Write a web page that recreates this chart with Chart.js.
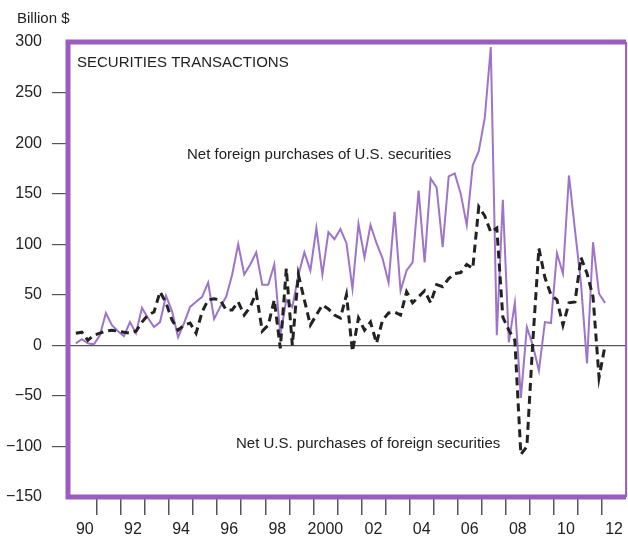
<!DOCTYPE html>
<html>
<head>
<meta charset="utf-8">
<script src="https://cdn.jsdelivr.net/npm/chart.js@4.4.0/dist/chart.umd.min.js"></script>
<style>
  html, body { margin: 0; padding: 0; background: #fff; }
  #wrap { width: 628px; height: 536px; }
</style>
</head>
<body>
<div id="wrap"><canvas id="chart" width="628" height="536"></canvas></div>
<script>
// --- data (quarterly, 1990Q1 .. 2012Q1, billion $) ---
const START_YEAR = 1990;
const QUARTER_COUNT = 89;

// net foreign purchases of U.S. securities
const foreignPurchases = [
  2, 6, 2, 1, 10, 32, 20, 14, 9, 23, 12, 37, 27, 18, 23, 49,
  34, 8, 22, 38, 43, 48, 62, 26, 38, 48, 70, 100, 70, 80, 92, 60,
  60, 80, 10, 45, 38, 69, 92, 74, 116, 70, 112, 105, 115, 101, 56, 120,
  87, 119, 101, 86, 62, 132, 54, 74, 82, 153, 82, 165, 156, 97, 167, 170,
  150, 119, 178, 192, 225, 295, 10, 144, 3, 42, -52, 18, 0, -25, 23, 22,
  91, 71, 168, 114, 61, -18, 102, 51, 42
];

// net U.S. purchases of foreign securities
const usPurchases = [
  12, 13, 5, 10, 12, 14, 15, 14, 13, 12, 14, 23, 30, 33, 53, 42,
  25, 15, 20, 22, 12, 33, 45, 46, 45, 35, 35, 43, 30, 38, 52, 14,
  20, 45, -3, 76, 0, 70, 45, 20, 30, 40, 36, 30, 27, 50, -6, 27,
  15, 23, 2, 25, 32, 33, 30, 53, 42, 48, 54, 42, 60, 58, 66, 71,
  72, 80, 76, 137, 128, 112, 116, 28, 15, 5, -108, -100, 5, 96, 67, 50,
  45, 20, 42, 43, 87, 71, 48, -32, 0
];

// axis ticks
const yTicks = [-150, -100, -50, 0, 50, 100, 150, 200, 250, 300];
const xTickYears = [1991, 1992, 1993, 1994, 1995, 1996, 1997, 1998, 1999, 2000, 2001,
  2002, 2003, 2004, 2005, 2006, 2007, 2008, 2009, 2010, 2011, 2012];
const xLabelYears = [1990, 1992, 1994, 1996, 1998, 2000, 2002, 2004, 2006, 2008, 2010, 2012];
const xLabels = ['90', '92', '94', '96', '98', '2000', '02', '04', '06', '08', '10', '12'];

const FRAME = '#9b5cc2';
const PURPLE = '#9e74cb';
const INK = '#222';
const NONE = 'rgba(0,0,0,0)';
const FONT = 'Liberation Sans, Arial, Helvetica, sans-serif';

// quarter midpoints in decimal years
const quarterX = [];
for (let i = 0; i < QUARTER_COUNT; i++) quarterX.push(START_YEAR + i * 0.25 + 0.125);

const toPoints = arr => arr.map((v, i) => ({ x: quarterX[i], y: v }));

// frame + free text
const framePlugin = {
  id: 'frame',
  afterDraw(chart) {
    const { ctx, chartArea: a } = chart;
    ctx.save();
    ctx.strokeStyle = FRAME;
    ctx.lineWidth = 5;
    ctx.beginPath();
    ctx.moveTo(a.right, a.top);
    ctx.lineTo(a.left, a.top);
    ctx.lineTo(a.left, a.bottom);
    ctx.lineTo(a.right, a.bottom);
    ctx.stroke();
    ctx.lineWidth = 2;
    ctx.beginPath();
    ctx.moveTo(a.right, a.top);
    ctx.lineTo(a.right, a.bottom);
    ctx.stroke();

    ctx.fillStyle = INK;
    ctx.textBaseline = 'middle';
    ctx.textAlign = 'left';
    ctx.font = '15px ' + FONT;
    ctx.fillText('Billion $', 17, 19, 54);
    ctx.fillText('SECURITIES TRANSACTIONS', 77, 63, 214);
    ctx.fillText('Net foreign purchases of U.S. securities', 187, 155, 266);
    ctx.fillText('Net U.S. purchases of foreign securities', 236, 444, 266);
    ctx.restore();
  }
};

new Chart(document.getElementById('chart'), {
  type: 'line',
  data: {
    datasets: [
      {
        label: 'Net foreign purchases of U.S. securities',
        data: toPoints(foreignPurchases),
        borderColor: PURPLE,
        borderWidth: 2,
        pointRadius: 0,
        tension: 0,
        order: 1
      },
      {
        label: 'Net U.S. purchases of foreign securities',
        data: toPoints(usPurchases),
        borderColor: '#222',
        borderWidth: 3,
        borderDash: [8, 5],
        pointRadius: 0,
        tension: 0,
        order: 0
      }
    ]
  },
  options: {
    responsive: false,
    devicePixelRatio: 1,
    animation: false,
    layout: { padding: { top: 42, right: 1, bottom: 0, left: 0 } },
    plugins: { legend: { display: false }, tooltip: { enabled: false } },
    scales: {
      x: {
        type: 'linear',
        min: 1989.8,
        max: 2013,
        afterFit: s => { s.height = 39; },
        afterBuildTicks: s => {
          const t = xTickYears.concat(xLabelYears.map(y => y + 0.5)).sort((a, b) => a - b);
          s.ticks = t.map(v => ({ value: v }));
        },
        border: { display: false },
        grid: {
          drawOnChartArea: false,
          tickLength: 18,
          lineWidth: 1.5,
          tickColor: c => (c.tick && Number.isInteger(c.tick.value)) ? '#555' : NONE
        },
        ticks: {
          autoSkip: false,
          maxRotation: 0,
          padding: 5,
          color: INK,
          font: { family: FONT, size: 16 },
          callback: v => {
            const k = xLabelYears.indexOf(v - 0.5);
            return k >= 0 ? xLabels[k] : '';
          }
        }
      },
      y: {
        min: -150,
        max: 300,
        afterFit: s => { s.width = 68; },
        afterBuildTicks: s => { s.ticks = yTicks.map(v => ({ value: v })); },
        border: { display: false },
        grid: {
          drawOnChartArea: true,
          tickLength: 16,
          lineWidth: 1.2,
          color: c => (c.tick && c.tick.value === 0) ? '#555' : NONE,
          tickColor: c => (c.tick && (c.tick.value === 300 || c.tick.value === -150)) ? NONE : '#555'
        },
        ticks: {
          padding: 10,
          color: INK,
          font: { family: FONT, size: 16 },
          callback: v => v < 0 ? '\u2212' + Math.abs(v) : String(v)
        }
      }
    }
  },
  plugins: [framePlugin]
});
</script>
</body>
</html>
